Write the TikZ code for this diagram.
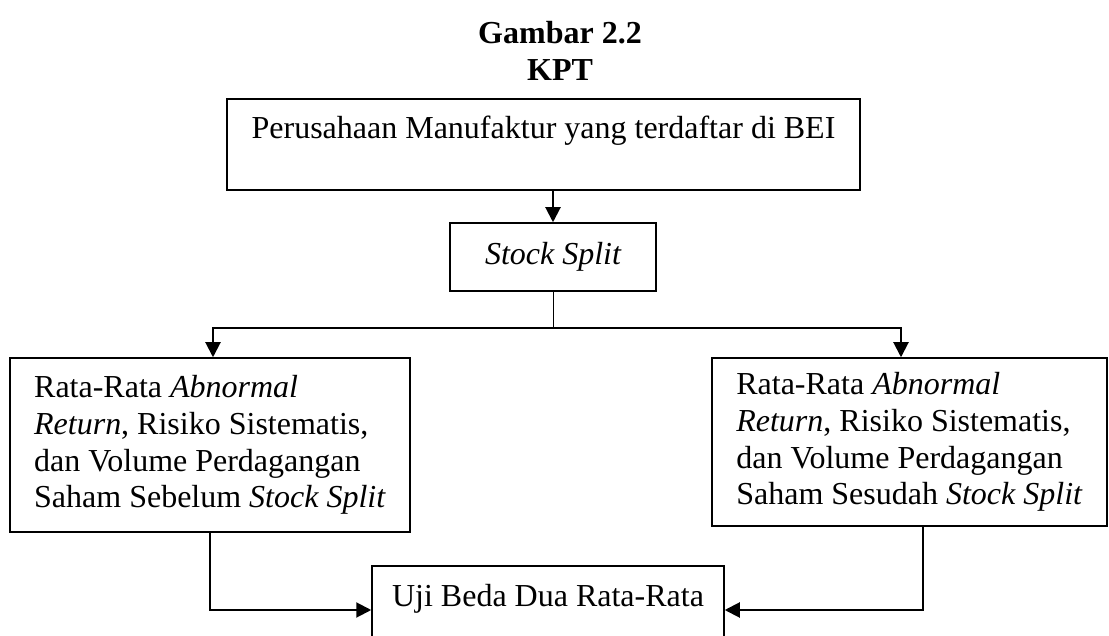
\documentclass[tikz,border=0pt]{standalone}
\usepackage{fontspec}
\setmainfont{Liberation Serif}
\usetikzlibrary{arrows.meta}
\newcommand{\bodyfont}{\fontsize{32}{36.8}\selectfont}
\begin{document}
\begin{tikzpicture}[x=1pt,y=-1pt,
  >={Triangle[width=15pt,length=15pt]},
  box/.style={draw, line width=1.5pt, inner sep=0pt, font=\bodyfont},
  conn/.style={line width=2pt},
  stem/.style={line width=1pt}]
\clip (0,0) rectangle (1109,636);
\node[font=\bodyfont\bfseries, align=center, anchor=north, inner sep=0pt] (title) at (560,21) {Gambar 2.2\\KPT};
\node[box, minimum width=633, minimum height=91, text height=22, text depth=33] (top) at (543.5,144.5) {Perusahaan Manufaktur yang terdaftar di BEI};
\node[box, minimum width=206, minimum height=68] (ss) at (553,257) {\itshape Stock Split};
\node[box, minimum width=400, minimum height=174, align=left] (bef) at (210,445)
  {Rata-Rata \textit{Abnormal}\\\textit{Return}, Risiko Sistematis,\\dan Volume Perdagangan\\Saham Sebelum \textit{Stock Split}};
\node[box, minimum width=395, minimum height=168, align=left] (aft) at (909.5,442)
  {Rata-Rata \textit{Abnormal}\\\textit{Return}, Risiko Sistematis,\\dan Volume Perdagangan\\Saham Sesudah \textit{Stock Split}};
\node[box, anchor=north, inner ysep=19pt, minimum width=352, text height=22, text depth=30] (uji) at (548,565) {Uji Beda Dua Rata-Rata};
\coordinate (hl) at (213,328);
\coordinate (hr) at (901,328);
\coordinate (jn) at (0,610);
\draw[conn,->] (ss.north |- top.south) -- (ss.north);
\draw[stem] (ss.south) -- (ss.south |- hl);
\draw[conn,<->] (hl |- bef.north) -- (hl) -- (hr) -- (hr |- aft.north);
\draw[conn,->] (bef.south) |- (jn -| uji.west);
\draw[conn,->] ([xshift=13.5pt]aft.south) |- (jn -| uji.east);
\end{tikzpicture}
\end{document}
